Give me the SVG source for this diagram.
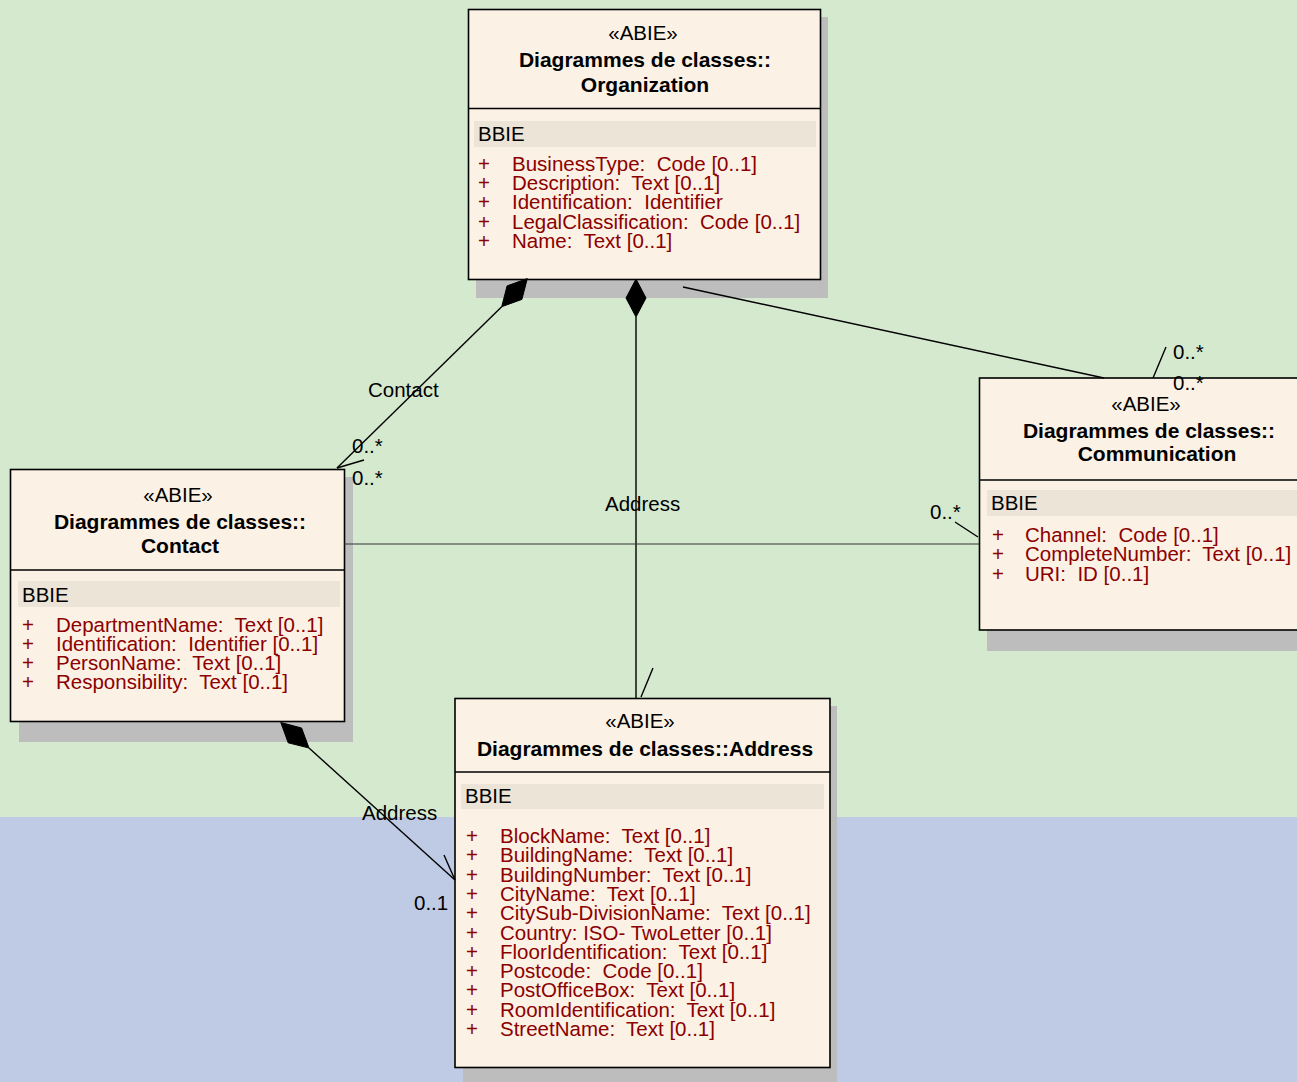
<svg xmlns="http://www.w3.org/2000/svg" width="1297" height="1082" viewBox="0 0 1297 1082">
<style>
.box{fill:#fbf1e4;stroke:#000;stroke-width:1.6}
.shadow{fill:#bdbdbd}
.band{fill:#ede4d8}
.div{stroke:#000;stroke-width:1.6}
text{font-family:"Liberation Sans",Arial,sans-serif;font-size:20.5px;fill:#000;white-space:pre}
.st{text-anchor:middle}
.ti{text-anchor:middle;font-weight:bold;font-size:21px}
.at{fill:#8b0000}
.ln{stroke:#000;stroke-width:1.4;fill:none}
.dm{fill:#000;stroke:#000;stroke-width:1}
</style>
<rect x="0" y="0" width="1297" height="817" fill="#d5e9cf"/>
<rect x="0" y="817" width="1297" height="265" fill="#bfcbe5"/>

<g id="organization">
<rect class="shadow" x="476" y="17" width="352" height="281"/>
<rect class="box" x="468.5" y="9.5" width="352" height="270"/>
<line class="div" x1="468.5" y1="108.5" x2="820.5" y2="108.5"/>
<text class="st" x="643" y="40">«ABIE»</text>
<text class="ti" x="645" y="67">Diagrammes de classes::</text>
<text class="ti" x="645" y="92">Organization</text>
<rect class="band" x="474" y="121" width="342" height="26"/>
<text x="478" y="141">BBIE</text>
<text class="at" x="478" y="171">+<tspan x="512">BusinessType:  Code [0..1]</tspan></text>
<text class="at" x="478" y="190">+<tspan x="512">Description:  Text [0..1]</tspan></text>
<text class="at" x="478" y="209">+<tspan x="512">Identification:  Identifier</tspan></text>
<text class="at" x="478" y="229">+<tspan x="512">LegalClassification:  Code [0..1]</tspan></text>
<text class="at" x="478" y="248">+<tspan x="512">Name:  Text [0..1]</tspan></text>
</g>

<g id="contact">
<rect class="shadow" x="19" y="477" width="334" height="265"/>
<rect class="box" x="10.5" y="469.5" width="334" height="252"/>
<line class="div" x1="10.5" y1="570" x2="344.5" y2="570"/>
<text class="st" x="178" y="502">«ABIE»</text>
<text class="ti" x="180" y="529">Diagrammes de classes::</text>
<text class="ti" x="180" y="553">Contact</text>
<rect class="band" x="18" y="581" width="322" height="26"/>
<text x="22" y="602">BBIE</text>
<text class="at" x="22" y="632">+<tspan x="56">DepartmentName:  Text [0..1]</tspan></text>
<text class="at" x="22" y="651">+<tspan x="56">Identification:  Identifier [0..1]</tspan></text>
<text class="at" x="22" y="670">+<tspan x="56">PersonName:  Text [0..1]</tspan></text>
<text class="at" x="22" y="689">+<tspan x="56">Responsibility:  Text [0..1]</tspan></text>
</g>

<g id="communication">
<rect class="shadow" x="987" y="386" width="340" height="265"/>
<rect class="box" x="979.5" y="378" width="340" height="252"/>
<line class="div" x1="979.5" y1="480" x2="1319" y2="480"/>
<text class="st" x="1146" y="411">«ABIE»</text>
<text class="ti" x="1149" y="438">Diagrammes de classes::</text>
<text class="ti" x="1157" y="461">Communication</text>
<rect class="band" x="987" y="490" width="330" height="26"/>
<text x="991" y="510">BBIE</text>
<text class="at" x="992" y="542">+<tspan x="1025">Channel:  Code [0..1]</tspan></text>
<text class="at" x="992" y="561">+<tspan x="1025">CompleteNumber:  Text [0..1]</tspan></text>
<text class="at" x="992" y="581">+<tspan x="1025">URI:  ID [0..1]</tspan></text>
</g>

<g id="address">
<rect class="shadow" x="463" y="706" width="374" height="380"/>
<rect class="box" x="455" y="698.5" width="375" height="369"/>
<line class="div" x1="455" y1="772" x2="830" y2="772"/>
<text class="st" x="640" y="728">«ABIE»</text>
<text class="ti" x="645" y="756">Diagrammes de classes::Address</text>
<rect class="band" x="461" y="784" width="363" height="25"/>
<text x="465" y="803">BBIE</text>
<text class="at" x="466" y="843">+<tspan x="500">BlockName:  Text [0..1]</tspan></text>
<text class="at" x="466" y="862">+<tspan x="500">BuildingName:  Text [0..1]</tspan></text>
<text class="at" x="466" y="882">+<tspan x="500">BuildingNumber:  Text [0..1]</tspan></text>
<text class="at" x="466" y="901">+<tspan x="500">CityName:  Text [0..1]</tspan></text>
<text class="at" x="466" y="920">+<tspan x="500">CitySub-DivisionName:  Text [0..1]</tspan></text>
<text class="at" x="466" y="940">+<tspan x="500">Country: ISO- TwoLetter [0..1]</tspan></text>
<text class="at" x="466" y="959">+<tspan x="500">FloorIdentification:  Text [0..1]</tspan></text>
<text class="at" x="466" y="978">+<tspan x="500">Postcode:  Code [0..1]</tspan></text>
<text class="at" x="466" y="997">+<tspan x="500">PostOfficeBox:  Text [0..1]</tspan></text>
<text class="at" x="466" y="1017">+<tspan x="500">RoomIdentification:  Text [0..1]</tspan></text>
<text class="at" x="466" y="1036">+<tspan x="500">StreetName:  Text [0..1]</tspan></text>
</g>

<g id="connectors">
<polygon class="dm" points="527.3,278.6 521.9,299.4 501.7,306.7 507.1,285.9"/>
<line class="ln" x1="501.7" y1="306.7" x2="337" y2="468"/>
<line class="ln" x1="337" y1="468" x2="364" y2="460"/>
<text x="368" y="397">Contact</text>
<text x="352" y="453">0..*</text>
<text x="352" y="485">0..*</text>
<polygon class="dm" points="636,279 646,298 636,317 626,298"/>
<line class="ln" x1="636" y1="317" x2="636" y2="699"/>
<line class="ln" x1="641" y1="697" x2="653" y2="668"/>
<text x="605" y="511">Address</text>
<line class="ln" x1="683" y1="287" x2="1104" y2="378"/>
<line class="ln" x1="1153" y1="378" x2="1166" y2="347"/>
<text x="1173" y="359">0..*</text>
<text x="1173" y="390">0..*</text>
<line x1="344" y1="544" x2="979" y2="544" stroke="#333" stroke-width="1.2"/>
<line class="ln" x1="955" y1="522" x2="978" y2="537"/>
<text x="930" y="519">0..*</text>
<polygon class="dm" points="280.8,722.5 301.6,728 309,748 288.2,742.8"/>
<line class="ln" x1="309" y1="748" x2="455" y2="880"/>
<line class="ln" x1="444" y1="855" x2="455" y2="880"/>
<text x="362" y="820">Address</text>
<text x="414" y="910">0..1</text>
</g>
</svg>
